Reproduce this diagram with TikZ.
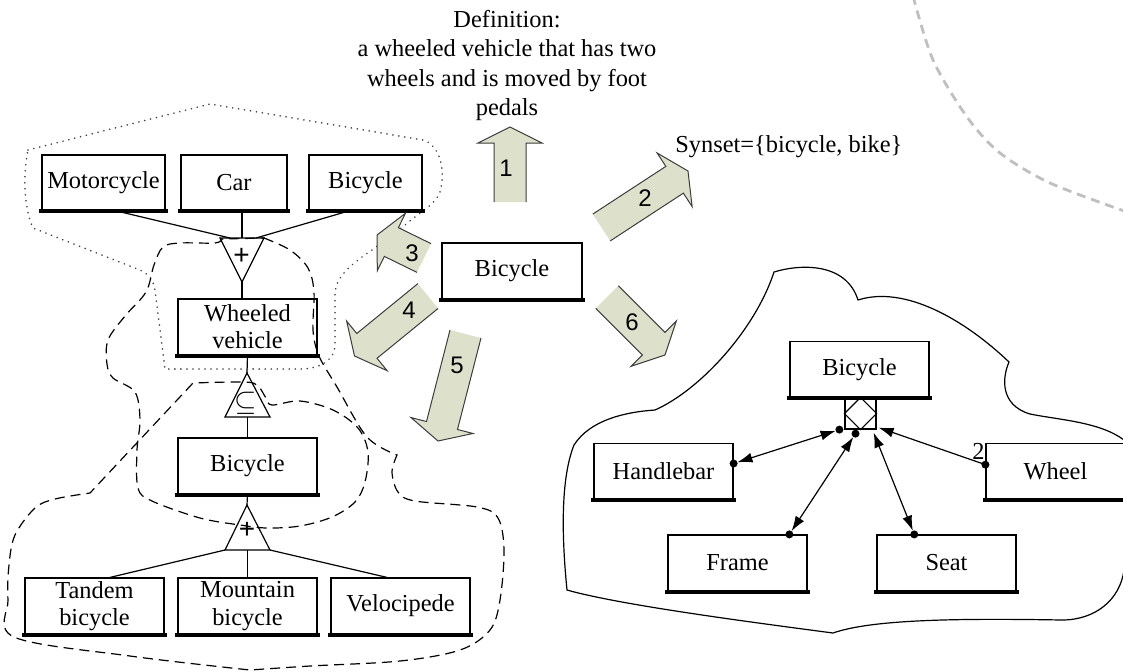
\documentclass[tikz,border=0pt]{standalone}
\usepackage{fontspec}
\setmainfont{Liberation Serif}
\newfontfamily\numfont{Liberation Sans}
\usetikzlibrary{calc,arrows.meta}

\definecolor{arrowfillc}{RGB}{221,225,203}
\definecolor{arrowedgec}{RGB}{60,60,60}

% block arrow from tail centre #1 to tip #2
\newcommand\blockarrow[2]{%
  \coordinate (ba-h)  at ($(#2)!8pt!(#1)$);
  \coordinate (ba-t1) at ($(#1)!8pt!90:(#2)$);
  \coordinate (ba-t2) at ($(#1)!8pt!-90:(#2)$);
  \coordinate (ba-s1) at ($(ba-h)!8pt!90:(#2)$);
  \coordinate (ba-s2) at ($(ba-h)!8pt!-90:(#2)$);
  \coordinate (ba-o1) at ($(ba-h)!16pt!90:(#2)$);
  \coordinate (ba-o2) at ($(ba-h)!16pt!-90:(#2)$);
  \fill[arrowfillc] (ba-t1) -- (ba-s1) -- (ba-o1) -- (#2) -- (ba-o2) -- (ba-s2) -- (ba-t2) -- cycle;
  \draw[arrowedgec, line width=0.5pt, line join=miter]
    (ba-t1) -- (ba-s1) -- (ba-o1) -- (#2) -- (ba-o2) -- (ba-s2) -- (ba-t2);
}

\begin{document}
\begin{tikzpicture}[x=0.5pt,y=-0.5pt,
  txt/.style={font=\fontsize{12.2}{13.6}\selectfont},
  box/.style={draw, line width=0.6pt, inner sep=1pt, align=center, txt},
  wbox/.style={box, minimum width=69.5pt, minimum height=28pt},
  treeline/.style={line width=0.6pt},
  conn/.style={line width=0.6pt},
  num/.style={font=\numfont\fontsize{12}{12}\selectfont},
  sym/.style={font=\numfont\fontsize{14}{14}\selectfont, inner sep=0pt},
  dashline/.style={line width=0.6pt, dash pattern=on 5pt off 3pt},
  dotline/.style={line width=0.9pt, black!75, dash pattern=on 0.01pt off 3pt, line cap=round},
  grayarc/.style={line width=1.4pt, black!25, dash pattern=on 4.5pt off 3pt},
  >={Latex[length=7.5pt,width=5pt]}]

\useasboundingbox (0,0) rectangle (1123,671);
\clip (0,0) rectangle (1123,671);

% definition text and synset
\node[txt, anchor=base] (def1) at (507,27)  {Definition:};
\node[txt, anchor=base] (def2) at (507,56)  {a wheeled vehicle that has two};
\node[txt, anchor=base] (def3) at (507,86)  {wheels and is moved by foot};
\node[txt, anchor=base] (def4) at (507,115) {pedals};
\node[txt, anchor=base west, inner sep=0pt] (synset) at (675,152) {Synset=\{bicycle, bike\}};

% faint dashed arc in the upper right corner
\draw[grayarc] plot[smooth] coordinates {(913,-4) (933,60) (967,117) (1000,153) (1050,183) (1127,212)};

% ---------------- left taxonomy ----------------
\node[box, minimum width=61.5pt, minimum height=27.5pt] (moto) at (103.5,182.5) {Motorcycle};
\node[box, minimum width=53pt,   minimum height=27.5pt] (car)  at (234,182.5)   {Car};
\node[box, minimum width=56.5pt, minimum height=27.5pt] (bictop) at (365.5,182.5) {Bicycle};
\node[wbox] (wheeled) at (247.5,327) {Wheeled\\vehicle};
\node[wbox] (bicmid)  at (247.5,466) {Bicycle};
\node[wbox] (tandem)  at (94.5,606)  {Tandem\\bicycle};
\node[wbox] (mountain) at (247.5,606) {Mountain\\bicycle};
\node[wbox] (veloc)   at (400.5,606) {Velocipede};

% central concept
\node[box, minimum width=70pt, minimum height=28pt] (center) at (512,271) {Bicycle};

% triangles of the taxonomy
\coordinate (ta-l) at (220,238); \coordinate (ta-r) at (264,238); \coordinate (ta-a) at (242,282);
\coordinate (tb-a) at (247,373); \coordinate (tb-l) at (225,417); \coordinate (tb-r) at (270,417);
\coordinate (tc-a) at (247,505); \coordinate (tc-l) at (225,550); \coordinate (tc-r) at (270,550);
\draw[treeline, line join=miter] (ta-l) -- (ta-r) -- (ta-a) -- cycle;
\draw[treeline, line join=miter] (tb-a) -- (tb-l) -- (tb-r) -- cycle;
\draw[treeline, line join=miter] (tc-a) -- (tc-l) -- (tc-r) -- cycle;
\node[sym] (plusA) at (241.5,256) {+};
\node[inner sep=0pt, font=\fontsize{14}{14}\selectfont] (subs) at (246,403) {$\subseteq$};
\node[sym] (plusC) at (247,530) {+};

% taxonomy links
\draw[treeline] ($(moto.south)+(11.5,0)$) -- (230,238);
\draw[treeline] ($(car.south)+(8,0)$) -- (242,238);
\draw[treeline] ($(bictop.south)+(-15.5,0)$) -- (256,238);
\draw[treeline] (ta-a) -- (ta-a |- wheeled.north);
\draw[treeline] (wheeled.south) -- (tb-a);
\draw[treeline] ($(tb-l)!0.5!(tb-r)$) -- (bicmid.north);
\draw[treeline] (bicmid.south) -- (tc-a);
\draw[treeline] (tc-l) -- ($(tandem.north)+(15.5,0)$);
\draw[treeline] ($(tc-l)!0.5!(tc-r)$) -- (mountain.north);
\draw[treeline] (tc-r) -- ($(veloc.north)+(-13.5,0)$);

% dotted region round the upper part
\draw[dotline] (28,150) -- (210,104) -- (423,140)
  .. controls (440,145) and (446,170) .. (440,192)
  .. controls (435,205) and (420,212) .. (405,225)
  -- (372,250)
  .. controls (345,268) and (335,280) .. (335,295)
  -- (335,345)
  .. controls (335,360) and (320,369) .. (300,369)
  -- (165,369) -- (155,290)
  .. controls (153,280) and (150,275) .. (140,270)
  -- (33,228)
  .. controls (25,210) and (22,180) .. (28,150) -- cycle;

% dashed region round the lower part
\draw[dashline]
  plot[smooth, tension=0.55] coordinates {(264,238) (290,250) (308,268) (314,292) (313,330) (319,356) (337,387) (367,437) (397,455)}
  -- plot[smooth, tension=0.55] coordinates {(397,455) (392,472) (398,492) (415,501) (477,507) (498,518) (504,550) (500,600) (490,630) (460,650) (400,661) (310,666) (250,670)}
  -- plot[smooth, tension=0.55] coordinates {(250,670) (130,656) (14,637) (8,600) (9,565) (15,535) (35,508) (55,499) (90,493)}
  -- (193,383)
  -- plot[smooth, tension=0.55] coordinates {(193,383) (245,382) (258,386) (266,398) (272,405) (300,401) (333,410) (358,428) (368,452) (365,482) (355,502) (332,517) (300,526) (267,528) (240,525) (200,518) (152,501) (138,488) (137,450) (140,420) (135,392) (113,378) (107,364) (108,340) (125,316) (146,292) (154,265) (163,247) (180,243) (215,243) (222,239)}
  -- cycle;

% ---------------- right part ----------------
\draw[line width=0.6pt] (655,410)
  .. controls (700,390) and (755,330) .. (774,272)
  .. controls (800,264) and (846,262) .. (858,300)
  .. controls (905,285) and (965,320) .. (1009,362)
  .. controls (1002,378) and (1000,405) .. (1030,414)
  .. controls (1060,420) and (1100,422) .. (1124,440)
  -- (1124,570)
  .. controls (1120,600) and (1095,620) .. (1062,620)
  .. controls (950,618) and (870,620) .. (833,633)
  .. controls (750,622) and (620,605) .. (567,590)
  .. controls (562,540) and (560,480) .. (574,445)
  .. controls (590,420) and (625,412) .. (655,410) -- cycle;

\node[wbox] (bicR)   at (859.5,369.5) {Bicycle};
\node[wbox] (handle) at (663.5,471.5) {Handlebar};
\node[wbox] (wheel)  at (1055.5,471.5) {Wheel};
\node[wbox] (frame)  at (737.5,563) {Frame};
\node[wbox] (seat)   at (946.5,563) {Seat};
\node[draw, line width=0.6pt, minimum size=15.5pt, inner sep=0pt] (sq) at (860.5,413.5) {};
\draw[line width=0.6pt] (sq.north) -- (sq.east) -- (sq.south) -- (sq.west) -- cycle;

% thick lower edges of the boxes
\foreach \n in {moto,car,bictop,wheeled,bicmid,tandem,mountain,veloc,center,bicR,handle,wheel,frame,seat}
  \draw[line width=2pt, line cap=rect] (\n.south west) -- (\n.south east);

% part-of links
\coordinate (hdot) at ($(handle.north east)!0.36!(handle.south east)$);
\coordinate (hup)  at ($(sq.south west)+(-5,0)$);
\coordinate (fdot) at ($(frame.north west)!0.87!(frame.north east)$);
\coordinate (fup)  at ($(sq.south)+(-5,4)$);
\coordinate (sdot) at ($(seat.north west)!0.27!(seat.north east)$);
\coordinate (stip) at ($(sq.south east)+(-3,3)$);
\coordinate (wdot) at ($(wheel.north west)!0.38!(wheel.south west)$);
\coordinate (wtip) at ($(sq.south east)+(2,-2)$);
\draw[conn, <->, shorten <=2pt, shorten >=2pt] (hdot) -- (hup);
\draw[conn, <->, shorten <=2pt, shorten >=2pt] (fdot) -- (fup);
\draw[conn, <->, shorten <=2pt] (sdot) -- (stip);
\draw[conn, ->] (wdot) -- (wtip);
\foreach \c in {hdot,hup,fdot,fup,sdot,wdot}
  \fill (\c) circle[radius=2pt];
\node[txt, inner sep=0pt] (mult) at ($(wdot)+(-7,-13)$) {2};

% ---------------- numbered block arrows ----------------
\coordinate (a1t) at (510,202);     \coordinate (a1p) at (510,127);
\coordinate (a2t) at (601.5,227.5); \coordinate (a2p) at (688,171);
\coordinate (a3t) at (424,258);     \coordinate (a3p) at (377,235);
\coordinate (a4t) at (428,296);     \coordinate (a4p) at (354.5,356);
\coordinate (a5t) at (465.5,334);   \coordinate (a5p) at (438,441);
\coordinate (a6t) at (607,297);     \coordinate (a6p) at (665,355);
\blockarrow{a1t}{a1p}
\blockarrow{a2t}{a2p}
\blockarrow{a3t}{a3p}
\blockarrow{a4t}{a4p}
\blockarrow{a5t}{a5p}
\blockarrow{a6t}{a6p}
\node[num] (n1) at (506,168) {1};
\node[num] (n2) at (645,198) {2};
\node[num] (n3) at (412,253) {3};
\node[num] (n4) at (409,310) {4};
\node[num] (n5) at (457,365) {5};
\node[num] (n6) at (632,322) {6};

\end{tikzpicture}
\end{document}
